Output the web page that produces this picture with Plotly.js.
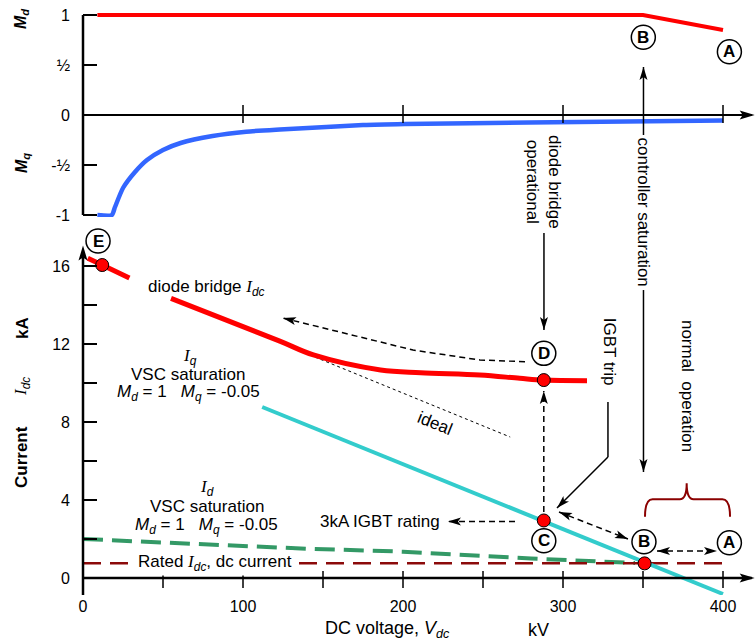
<!DOCTYPE html>
<html><head><meta charset="utf-8">
<script src="https://cdn.plot.ly/plotly-3.0.1.min.js"></script>
<style>html,body{margin:0;padding:0;background:#fff}</style>
</head><body><div id="chart" style="width:755px;height:643px"></div>
<script>
// ---------------- data ----------------
const mdVolt = [9, 350, 400];
const mdVal  = [1, 1, 0.85];
const mqVolt = [9, 18, 20, 25, 32.5, 40, 50, 61, 81, 102, 123, 175, 201, 279, 400];
const mqVal  = [-1, -1, -0.92, -0.73, -0.57, -0.45, -0.35, -0.28, -0.21, -0.167, -0.145, -0.10, -0.09, -0.075, -0.055];
const diodeVolt = [3, 12, 29, null, 55, 123, 144, 186, 211, 248, 273, 288, 315];
const diodeIdc  = [16.4, 16.05, 15.38, null, 14.34, 12.15, 11.44, 10.67, 10.53, 10.41, 10.24, 10.15, 10.12];
const iqVolt = [112, 400];
const iqIdc  = [8.77, -0.82];
const idVolt = [0, 140, 200, 280, 345];
const idIdc  = [2.0, 1.5, 1.35, 1.0, 0.77];
const ratedVolt = [0, 400];
const ratedIdc  = [0.75, 0.75];
const idealVolt = [145, 267];
const idealIdc  = [11.33, 7.23];
const ptNames = ['E', 'D', 'C', 'B'];
const ptVolt  = [12, 288, 288, 351];
const ptIdc   = [16.05, 10.15, 2.95, 0.75];
const xTickVals = [0, 100, 200, 300, 400];
const xMinorTicks = [50, 100, 150, 200, 250, 300, 350, 400];
const xUpperTicks = [100, 200, 300, 400];
const yTickVals = [0, 4, 8, 12, 16];
const yMinorVals = [2, 6, 10, 14];
const y2TickVals = [-1, -0.5, 0, 0.5, 1];
const y2TickText = ['-1', '-½', '0', '½', '1'];

// ---------------- helpers ----------------
const FONT = 'Liberation Sans, Arial, sans-serif';
const SX = 1.6, SY = 19.5, SY2 = 100, SP = 590;   // pixels per unit
const scaleOf = r => r === 'y' ? SY : (r === 'y2' ? SY2 : SP);
const IDC = '<span style="font-family:Liberation Serif;font-style:italic">I</span><sub><i>dc</i></sub>';
const serifI = s => '<span style="font-family:Liberation Serif;font-style:italic">I</span><sub><i>' + s + '</i></sub>';

const shapes = [], annotations = [];

function head(yref, x, y, ang, L = 13, Wd = 4, notch = 3, color = '#000', xref = 'x') {
  const a = ang * Math.PI / 180, c = Math.cos(a), s = Math.sin(a);
  const pts = [[0, 0], [-L, Wd], [-L + notch, 0], [-L, -Wd]];
  const r = pts.map(([u, v]) => (u * c - v * s).toFixed(2) + ',' + (u * s + v * c).toFixed(2));
  shapes.push({type: 'path', xref, yref, xsizemode: 'pixel', ysizemode: 'pixel',
    xanchor: x, yanchor: y, path: 'M' + r[0] + ' L' + r[1] + ' L' + r[2] + ' L' + r[3] + ' Z',
    fillcolor: color, line: {width: 0}, layer: 'above'});
}
function arrow(yref, x0, y0, x1, y1, o = {}) {
  const w = o.width || 1.5, color = o.color || '#000';
  shapes.push({type: 'line', xref: 'x', yref, x0, y0, x1, y1,
    line: {color, width: w, dash: o.dash || 'solid'}, layer: 'above'});
  const sy = scaleOf(yref);
  const ang = Math.atan2((y1 - y0) * sy, (x1 - x0) * SX) * 180 / Math.PI;
  if (o.end !== false) head(yref, x1, y1, ang, o.L, o.W, o.N, color);
  if (o.start) head(yref, x0, y0, ang + 180, o.L, o.W, o.N, color);
}
function circ(xref, yref, x, y, letter) {
  shapes.push({type: 'circle', xref, yref, xsizemode: 'pixel', ysizemode: 'pixel',
    xanchor: x, yanchor: y, x0: -12, x1: 12, y0: -12, y1: 12,
    line: {color: '#000', width: 1.5}, fillcolor: '#fff', layer: 'above'});
  annotations.push({xref, yref, x, y, text: '<b>' + letter + '</b>', showarrow: false,
    font: {size: 17, family: FONT, color: '#000'}, xanchor: 'center', yanchor: 'middle'});
}
function txt(text, x, y, xref, yref, o = {}) {
  annotations.push(Object.assign({xref, yref, x, y, text, showarrow: false,
    font: {size: 17, family: FONT, color: '#000'}, xanchor: 'center', yanchor: 'middle'}, o));
}

// ---------------- axes (lines, ticks, arrows) ----------------
shapes.push({type: 'line', xref: 'x', yref: 'y2', x0: 0, x1: 418, y0: 0, y1: 0, line: {color: '#000', width: 2}, layer: 'above'});
head('y2', 419.8, 0, 0, 15, 4.5, 3);
shapes.push({type: 'line', xref: 'x', yref: 'y', x0: 0, x1: 418, y0: 0, y1: 0, line: {color: '#000', width: 2.5}, layer: 'above'});
head('y', 419.8, 0, 0, 15, 4.5, 3);
shapes.push({type: 'line', xref: 'paper', yref: 'y', x0: 0, x1: 0, y0: -0.87, y1: 16.6, line: {color: '#000', width: 2.5}, layer: 'above'});
head('y', 0, 17.05, 90, 15, 4.5, 3, '#000', 'paper');
shapes.push({type: 'line', xref: 'paper', yref: 'y2', x0: 0, x1: 0, y0: -1, y1: 1, line: {color: '#000', width: 2.5}, layer: 'above'});
xMinorTicks.forEach(v => shapes.push({type: 'line', xref: 'x', yref: 'y', x0: v, x1: v, y0: -0.51, y1: 0.36, line: {color: '#000', width: 1.5}, layer: 'above'}));
xUpperTicks.forEach(v => shapes.push({type: 'line', xref: 'x', yref: 'y2', x0: v, x1: v, y0: -0.08, y1: 0.10, line: {color: '#000', width: 1.5}, layer: 'above'}));

// ---------------- annotation arrows ----------------
// diode bridge operational
arrow('paper', 288.1, 0.6136, 288.1, 0.4492);
// controller saturation
arrow('paper', 350.3, 0.7797, 350.3, 0.8949);
arrow('paper', 350.3, 0.5169, 350.3, 0.2085);
// IGBT trip
shapes.push({type: 'line', xref: 'x', yref: 'y', x0: 328.1, x1: 328.1, y0: 9.03, y1: 6.21, line: {color: '#000', width: 1.5}, layer: 'above'});
arrow('y', 328.1, 6.21, 296.25, 3.59);
// dashed arrows
const DASH = '6px,4px';
arrow('y', 297.5, 3.385, 340.6, 2.0, {dash: DASH, start: true});
arrow('y', 358.75, 1.385, 396.25, 1.385, {dash: DASH, start: true});
arrow('y', 288, 3.385, 288, 9.59, {dash: DASH});
arrow('y', 270, 2.9, 228.1, 2.9, {dash: DASH});
shapes.push({type: 'path', xref: 'x', yref: 'y', path: 'M276.25,11.09 L248.1,11.18 L206.25,11.69 L173.1,12.36 L125,13.33',
  line: {color: '#000', width: 1.5, dash: DASH}, layer: 'above'});
head('y', 125, 13.33, Math.atan2(0.97 * SY, -48.1 * SX) * 180 / Math.PI);
// brace
shapes.push({type: 'path', xref: 'x', yref: 'y',
  path: 'M351.25,3.14 Q351.25,4.04 356,4.04 L373,4.04 Q377.3,4.04 377.3,4.86 Q377.3,4.04 381.6,4.04 L399.6,4.04 Q404.4,4.04 404.4,3.14',
  line: {color: '#8b0000', width: 2}, layer: 'above'});

// ---------------- circled labels ----------------
circ('x', 'paper', 9.4, 0.6, 'E');
circ('x', 'y', 288, 11.52, 'D');
circ('x', 'y', 288, 1.91, 'C');
circ('x', 'y', 350.6, 1.86, 'B');
circ('x', 'y', 404, 1.81, 'A');
circ('x', 'y2', 350.2, 0.777, 'B');
circ('x', 'y2', 404, 0.633, 'A');

// ---------------- texts ----------------
txt('<b><i>M<sub>d</sub></i></b>', -0.0908, 0.978, 'paper', 'paper', {textangle: -90, font: {size: 16, family: FONT, color: '#000'}});
txt('<b><i>M<sub>q</sub></i></b>', -0.0908, 0.7322, 'paper', 'paper', {textangle: -90, font: {size: 16, family: FONT, color: '#000'}});
txt('<b>Current</b>', -0.0908, 0.2339, 'paper', 'paper', {textangle: -90});
txt(IDC, -0.0908, 0.3542, 'paper', 'paper', {textangle: -90});
txt('<b>kA</b>', -0.0908, 0.4525, 'paper', 'paper', {textangle: -90});
txt('diode bridge ' + IDC, 77.2, 14.87, 'x', 'y');
txt(serifI('q'), 66.9, 11.35, 'x', 'y');
txt('VSC saturation', 65.8, 10.45, 'x', 'y');
txt('<i>M</i><sub><i>d</i></sub> = 1&nbsp;&nbsp; <i>M</i><sub><i>q</i></sub> = -0.05', 65.8, 9.47, 'x', 'y');
txt(serifI('d'), 77.3, 4.6, 'x', 'y');
txt('VSC saturation', 77.3, 3.66, 'x', 'y');
txt('<i>M</i><sub><i>d</i></sub> = 1&nbsp;&nbsp; <i>M</i><sub><i>q</i></sub> = -0.05', 77.3, 2.67, 'x', 'y');
txt('Rated ' + IDC + ', dc current', 82.5, 0.75, 'x', 'y', {bgcolor: '#fff', borderpad: 1});
txt('3kA IGBT rating', 185.6, 2.88, 'x', 'y');
txt('ideal', 220, 7.93, 'x', 'y', {textangle: 22});
txt('normal\u00a0 operation', 377.5, 9.85, 'x', 'y', {textangle: 90});
txt('IGBT trip', 328.75, 11.6, 'x', 'y', {textangle: 90});
txt('controller saturation', 350.3, 0.6492, 'x', 'paper', {textangle: 90});
txt('diode bridge<br>operational', 288.1, 0.70, 'x', 'paper', {textangle: 90});
txt('DC voltage, <i>V</i><sub><i>dc</i></sub>', 190.6, -0.0593, 'x', 'paper', {font: {size: 18, family: FONT, color: '#000'}});
txt('kV', 284.6, -0.0593, 'x', 'paper', {font: {size: 18, family: FONT, color: '#000'}});

// ---------------- traces ----------------
const traces = [
  {x: mdVolt, y: mdVal, xaxis: 'x', yaxis: 'y2', mode: 'lines', line: {color: '#ff0000', width: 4}, name: 'Md'},
  {x: mqVolt, y: mqVal, xaxis: 'x', yaxis: 'y2', mode: 'lines', line: {color: '#3366ff', width: 4.5, shape: 'spline', smoothing: 0.6}, name: 'Mq'},
  {x: idVolt, y: idIdc, mode: 'lines', line: {color: '#339966', width: 4, dash: '20px,9px'}, name: 'Id'},
  {x: ratedVolt, y: ratedIdc, mode: 'lines', line: {color: '#8b0a0a', width: 2.5, dash: '18px,9px'}, name: 'Rated'},
  {x: iqVolt, y: iqIdc, mode: 'lines', line: {color: '#33cccc', width: 4}, name: 'Iq'},
  {x: idealVolt, y: idealIdc, mode: 'lines', line: {color: '#000', width: 1, dash: 'dot'}, name: 'ideal'},
  {x: diodeVolt, y: diodeIdc, mode: 'lines', connectgaps: false, line: {color: '#ff0000', width: 5, shape: 'spline', smoothing: 1}, name: 'diode'},
  {x: ptVolt, y: ptIdc, text: ptNames, mode: 'markers', marker: {color: '#ff0000', size: 13, line: {color: '#000', width: 1}}, name: 'points'}
];

const layout = {
  width: 755, height: 643,
  margin: {l: 83, r: 0, t: 5, b: 48},
  paper_bgcolor: '#fff', plot_bgcolor: 'rgba(0,0,0,0)',
  showlegend: false,
  font: {family: FONT, size: 16, color: '#000'},
  xaxis: {domain: [0, 1], range: [0, 420], anchor: 'y', tickvals: xTickVals, ticks: '',
    showline: false, zeroline: false, showgrid: false, tickfont: {size: 16}, fixedrange: true},
  yaxis: {domain: [0, 0.59322], range: [-0.8718, 17.077], anchor: 'x', tickmode: 'array', tickvals: yTickVals,
    ticks: 'inside', ticklen: 14, tickwidth: 1.5, tickcolor: '#000', ticklabelstandoff: 12,
    minor: {tickmode: 'array', tickvals: yMinorVals, ticks: 'inside', ticklen: 14, tickwidth: 1.5, tickcolor: '#000', showgrid: false},
    showline: false, zeroline: false, showgrid: false, tickfont: {size: 16}, fixedrange: true},
  yaxis2: {domain: [0.64068, 0.98644], range: [-1.02, 1.02], anchor: 'x', tickvals: y2TickVals, ticktext: y2TickText,
    ticks: 'inside', ticklen: 14, tickwidth: 1.5, tickcolor: '#000', ticklabelstandoff: 12,
    showline: false, zeroline: false, showgrid: false, tickfont: {size: 16}, fixedrange: true},
  shapes, annotations
};
Plotly.newPlot('chart', traces, layout, {displayModeBar: false, staticPlot: true});
</script></body></html>
